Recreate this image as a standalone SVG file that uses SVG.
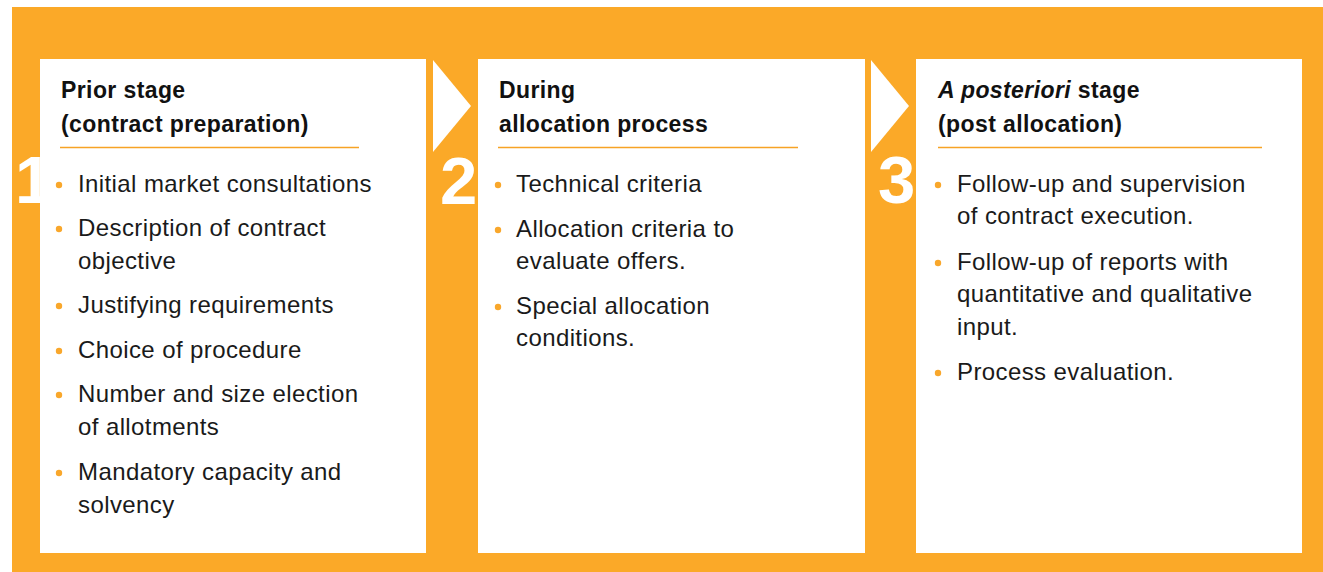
<svg xmlns="http://www.w3.org/2000/svg" width="1323" height="572" viewBox="0 0 1323 572">
  <style>
    .panel { fill: #ffffff; }
    .step { fill: #ffffff; }
    .num { font-family: "Liberation Sans", Arial, sans-serif; font-size: 67px; font-weight: bold; fill: #ffffff; }
    .title { font-family: "Liberation Sans", Arial, sans-serif; font-size: 23px; font-weight: bold; fill: #111111; letter-spacing: 0.4px; }
    .item { font-family: "Liberation Sans", Arial, sans-serif; font-size: 24px; fill: #1a1a1a; letter-spacing: 0.4px; }
    .rule { stroke: #F7A325; stroke-width: 1.4; fill: none; }
    .dot { fill: #F9A72B; }
  </style>
  <defs>
    <circle id="bullet" r="3.2" class="dot"/>
  </defs>

  <!-- orange frame -->
  <rect x="12" y="7" width="1311" height="565" fill="#FBA928"/>

  <!-- step arrows between panels -->
  <g id="connectors">
    <polygon class="step" points="433,60 471,106 433,152"/>
    <polygon class="step" points="871,60 909,106 871,152"/>
  </g>

  <!-- stage 1 -->
  <g id="stage1">
    <rect class="panel" x="40" y="59" width="386" height="494"/>
    <text class="num" x="15" y="203">1</text>
    <text class="title" x="61" y="98">Prior stage</text>
    <text class="title" x="61" y="132">(contract preparation)</text>
    <line class="rule" x1="60" y1="147.5" x2="359" y2="147.5"/>
    <use href="#bullet" x="59" y="185"/>
    <text class="item" x="78" y="192">Initial market consultations</text>
    <use href="#bullet" x="59" y="229"/>
    <text class="item" x="78" y="236">Description of contract</text>
    <text class="item" x="78" y="269">objective</text>
    <use href="#bullet" x="59" y="306"/>
    <text class="item" x="78" y="313">Justifying requirements</text>
    <use href="#bullet" x="59" y="351"/>
    <text class="item" x="78" y="358">Choice of procedure</text>
    <use href="#bullet" x="59" y="395"/>
    <text class="item" x="78" y="402">Number and size election</text>
    <text class="item" x="78" y="435">of allotments</text>
    <use href="#bullet" x="59" y="473"/>
    <text class="item" x="78" y="480">Mandatory capacity and</text>
    <text class="item" x="78" y="513">solvency</text>
  </g>

  <!-- stage 2 -->
  <g id="stage2">
    <rect class="panel" x="478" y="59" width="387" height="494"/>
    <text class="num" x="440" y="204">2</text>
    <text class="title" x="499" y="98">During</text>
    <text class="title" x="499" y="132">allocation process</text>
    <line class="rule" x1="498" y1="147.5" x2="798" y2="147.5"/>
    <use href="#bullet" x="498" y="185"/>
    <text class="item" x="516" y="192">Technical criteria</text>
    <use href="#bullet" x="498" y="230"/>
    <text class="item" x="516" y="237">Allocation criteria to</text>
    <text class="item" x="516" y="269">evaluate offers.</text>
    <use href="#bullet" x="498" y="307"/>
    <text class="item" x="516" y="314">Special allocation</text>
    <text class="item" x="516" y="346">conditions.</text>
  </g>

  <!-- stage 3 -->
  <g id="stage3">
    <rect class="panel" x="916" y="59" width="386" height="494"/>
    <text class="num" x="878" y="203">3</text>
    <text class="title" x="938" y="98"><tspan font-style="italic">A posteriori</tspan> stage</text>
    <text class="title" x="938" y="132">(post allocation)</text>
    <line class="rule" x1="938" y1="147.5" x2="1262" y2="147.5"/>
    <use href="#bullet" x="938" y="185"/>
    <text class="item" x="957" y="192">Follow-up and supervision</text>
    <text class="item" x="957" y="224">of contract execution.</text>
    <use href="#bullet" x="938" y="263"/>
    <text class="item" x="957" y="270">Follow-up of reports with</text>
    <text class="item" x="957" y="302">quantitative and qualitative</text>
    <text class="item" x="957" y="335">input.</text>
    <use href="#bullet" x="938" y="373"/>
    <text class="item" x="957" y="380">Process evaluation.</text>
  </g>
</svg>
